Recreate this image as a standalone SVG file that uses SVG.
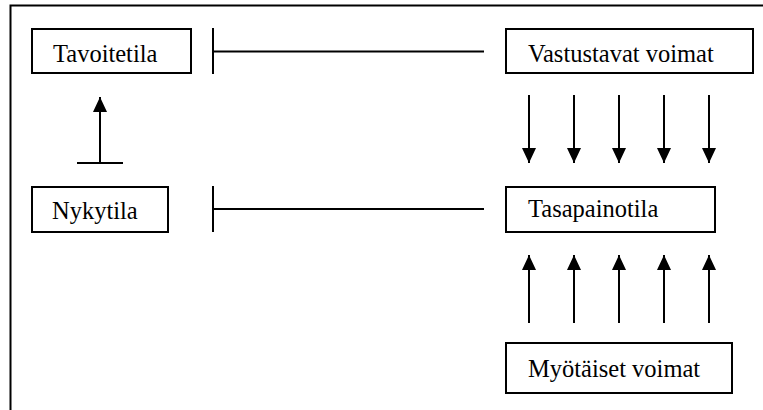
<svg xmlns="http://www.w3.org/2000/svg" width="763" height="410" viewBox="0 0 763 410">
  <style>
    .box { fill: #fff; stroke: #000; stroke-width: 2; }
    .lbl { font-family: 'Liberation Serif', 'Times New Roman', 'DejaVu Serif', serif; font-size: 24.5px; fill: #000; }
    .ln { stroke: #000; stroke-width: 2; fill: none; }
  </style>
  <defs>
    <marker id="head" viewBox="0 0 15 14" refX="15" refY="7" markerWidth="15" markerHeight="14" markerUnits="userSpaceOnUse" orient="auto">
      <path d="M0,0 L15,7 L0,14 Z" fill="#000"/>
    </marker>
  </defs>
  <rect width="763" height="410" fill="#fff"/>
  <!-- outer frame, runs off the right and bottom edges -->
  <rect x="10.5" y="5.5" width="770" height="420" fill="none" stroke="#000" stroke-width="2"/>

  <g id="connectors">
    <!-- blocked links to the right-hand column -->
    <line class="ln" x1="213" y1="28" x2="213" y2="74"/>
    <line class="ln" x1="213" y1="51.5" x2="484" y2="51.5"/>
    <line class="ln" x1="213" y1="186" x2="213" y2="232"/>
    <line class="ln" x1="213" y1="209" x2="484" y2="209"/>
    <!-- current state towards target -->
    <line class="ln" x1="77" y1="163" x2="123" y2="163"/>
    <line class="ln" x1="100" y1="163" x2="100" y2="97" marker-end="url(#head)"/>
    <!-- opposing forces pushing down -->
    <line class="ln" x1="529" y1="95" x2="529" y2="163" marker-end="url(#head)"/>
    <line class="ln" x1="574" y1="95" x2="574" y2="163" marker-end="url(#head)"/>
    <line class="ln" x1="619" y1="95" x2="619" y2="163" marker-end="url(#head)"/>
    <line class="ln" x1="664" y1="95" x2="664" y2="163" marker-end="url(#head)"/>
    <line class="ln" x1="709" y1="95" x2="709" y2="163" marker-end="url(#head)"/>
    <!-- supporting forces pushing up -->
    <line class="ln" x1="529" y1="323" x2="529" y2="255" marker-end="url(#head)"/>
    <line class="ln" x1="574" y1="323" x2="574" y2="255" marker-end="url(#head)"/>
    <line class="ln" x1="619" y1="323" x2="619" y2="255" marker-end="url(#head)"/>
    <line class="ln" x1="664" y1="323" x2="664" y2="255" marker-end="url(#head)"/>
    <line class="ln" x1="709" y1="323" x2="709" y2="255" marker-end="url(#head)"/>
  </g>

  <g id="tavoitetila">
    <rect class="box" x="32" y="29" width="159" height="44"/>
    <text class="lbl" x="53" y="62" font-family="Liberation Serif, serif">Tavoitetila</text>
  </g>
  <g id="nykytila">
    <rect class="box" x="32" y="187" width="136" height="45"/>
    <text class="lbl" x="52" y="219" font-family="Liberation Serif, serif">Nykytila</text>
  </g>
  <g id="vastustavat">
    <rect class="box" x="506" y="29" width="247" height="44"/>
    <text class="lbl" x="528" y="62" font-family="Liberation Serif, serif">Vastustavat voimat</text>
  </g>
  <g id="tasapainotila">
    <rect class="box" x="506" y="187" width="209" height="45"/>
    <text class="lbl" x="528" y="217" font-family="Liberation Serif, serif">Tasapainotila</text>
  </g>
  <g id="myotaiset">
    <rect class="box" x="506" y="343" width="226" height="50"/>
    <text class="lbl" x="528" y="377" font-family="Liberation Serif, serif">Myötäiset voimat</text>
  </g>
</svg>
